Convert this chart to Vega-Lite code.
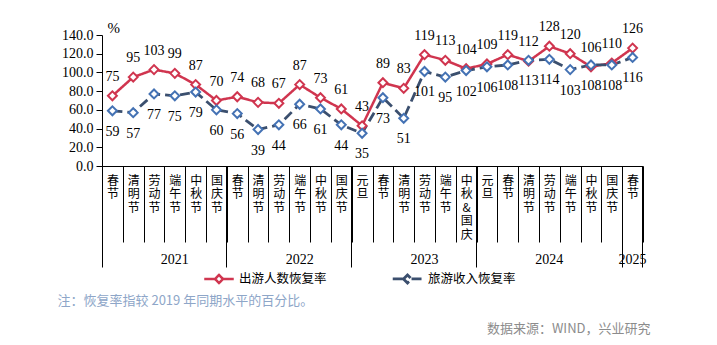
{
  "$schema": "https://vega.github.io/schema/vega-lite/v6.json",
  "autosize": "none",
  "width": 541,
  "height": 131,
  "padding": {"left": 102, "top": 35, "right": 74, "bottom": 179},
  "background": "white",
  "config": {"view": {"stroke": null}, "axis": {"grid": false, "domainColor": "black", "tickColor": "black", "labelColor": "black", "titleColor": "black"},
    "axisY": {"labelOverlap": false, "labelFlush": false, "labelBound": false}},
  "data": {"values": [
    {"k": "2021春节", "out": 75, "rev": 59},
    {"k": "2021清明节", "out": 95, "rev": 57},
    {"k": "2021劳动节", "out": 103, "rev": 77},
    {"k": "2021端午节", "out": 99, "rev": 75},
    {"k": "2021中秋节", "out": 87, "rev": 79},
    {"k": "2021国庆节", "out": 70, "rev": 60},
    {"k": "2022春节", "out": 74, "rev": 56},
    {"k": "2022清明节", "out": 68, "rev": 39},
    {"k": "2022劳动节", "out": 67, "rev": 44},
    {"k": "2022端午节", "out": 87, "rev": 66},
    {"k": "2022中秋节", "out": 73, "rev": 61},
    {"k": "2022国庆节", "out": 61, "rev": 44},
    {"k": "2023元旦", "out": 43, "rev": 35},
    {"k": "2023春节", "out": 89, "rev": 73},
    {"k": "2023清明节", "out": 83, "rev": 51},
    {"k": "2023劳动节", "out": 119, "rev": 101},
    {"k": "2023端午节", "out": 113, "rev": 95},
    {"k": "2023中秋&国庆", "out": 104, "rev": 102},
    {"k": "2024元旦", "out": 109, "rev": 106},
    {"k": "2024春节", "out": 119, "rev": 108},
    {"k": "2024清明节", "out": 112, "rev": 113},
    {"k": "2024劳动节", "out": 128, "rev": 114},
    {"k": "2024端午节", "out": 120, "rev": 103},
    {"k": "2024中秋节", "out": 106, "rev": 108},
    {"k": "2024国庆节", "out": 110, "rev": 108},
    {"k": "2025春节", "out": 126, "rev": 116}
  ]},
  "resolve": {"axis": {"x": "independent"}},
  "layer": [
    {
      "transform": [{"fold": ["out", "rev"], "as": ["s", "v"]}],
      "mark": {"type": "line"},
      "encoding": {
        "x": {"field": "k", "type": "ordinal", "sort": null, "scale": {"paddingInner": 0, "paddingOuter": 0},
          "axis": {"orient": "bottom", "title": null, "domain": true, "domainWidth": 1, "ticks": true, "tickBand": "extent", "tickSize": 76, "tickWidth": 1,
            "labelExpr": "split(substring(datum.label, 4), '')", "labelAngle": 0, "labelBaseline": "top", "labelAlign": "center",
            "labelPadding": -67, "labelFont": "Noto Sans CJK SC", "labelFontSize": 12, "labelLineHeight": 13.5, "labelOverlap": false, "labelBound": false}},
        "y": {"field": "v", "type": "quantitative", "scale": {"domain": [0, 140], "nice": false, "zero": true},
          "axis": {"orient": "left", "values": [0, 20, 40, 60, 80, 100, 120, 140], "format": ".1f", "tickSize": 6, "labelPadding": 3,
            "labelFont": "Liberation Serif", "labelFontSize": 14, "labelFlush": false, "labelOverlap": false, "labelBound": false, "domainWidth": 1,
            "title": "%", "titleAngle": 0, "titleX": 5, "titleY": 0, "titleAlign": "left", "titleBaseline": "bottom",
            "titleFont": "Liberation Serif", "titleFontSize": 15, "titleFontWeight": "normal"}},
        "color": {"field": "s", "type": "nominal", "scale": {"domain": ["out", "rev"], "range": ["#d0354f", "#3b4f6e"]},
          "legend": {"orient": "none", "legendX": 109, "legendY": 235, "direction": "horizontal", "title": null,
            "labelExpr": "datum.label == 'out' ? '出游人数恢复率' : '旅游收入恢复率'",
            "symbolType": "M-2.2,0H-0.6M0.6,0H2.2M-0.6,0L0,-0.6L0.6,0L0,0.6Z", "symbolSize": 180, "symbolStrokeWidth": 2.5,
            "symbolFillColor": "white", "labelFont": "Noto Sans CJK SC", "labelFontSize": 12.5, "labelColor": "black",
            "labelOffset": 12, "columnPadding": 60}},
        "strokeDash": {"field": "s", "type": "nominal", "scale": {"domain": ["out", "rev"], "range": [[1, 0], [10, 5]]}},
        "strokeWidth": {"field": "s", "type": "nominal", "scale": {"domain": ["out", "rev"], "range": [2.5, 2.8]}, "legend": null}
      }
    },
    {
      "mark": {"type": "point", "shape": "diamond", "size": 80, "filled": true, "fill": "white", "stroke": "#d0354f", "strokeWidth": 2, "opacity": 1},
      "encoding": {
        "x": {"field": "k", "type": "ordinal", "sort": null,
          "axis": {"orient": "bottom", "title": null, "values": ["2021春节", "2022春节", "2023元旦", "2024元旦", "2025春节"], "bandPosition": 0,
            "domain": false, "labels": false, "ticks": true, "tickSize": 101, "tickWidth": 1}},
        "y": {"field": "out", "type": "quantitative",
          "axis": {"orient": "left", "values": [0, 20, 40, 60, 80, 100, 120, 140], "format": ".1f", "tickSize": 6, "labelPadding": 3,
            "labelFont": "Liberation Serif", "labelFontSize": 14, "labelFlush": false, "labelOverlap": false, "labelBound": false, "domainWidth": 1,
            "title": "%", "titleAngle": 0, "titleX": 5, "titleY": 0, "titleAlign": "left", "titleBaseline": "bottom",
            "titleFont": "Liberation Serif", "titleFontSize": 15, "titleFontWeight": "normal"}}
      }
    },
    {
      "mark": {"type": "point", "shape": "diamond", "size": 80, "filled": true, "fill": "white", "stroke": "#4472b4", "strokeWidth": 2, "opacity": 1},
      "encoding": {
        "x": {"field": "k", "type": "ordinal", "sort": null,
          "axis": {"orient": "bottom", "title": null, "values": ["2024劳动节", "2025春节"], "bandPosition": 0.5,
            "domain": false, "ticks": false, "labelExpr": "substring(datum.label, 0, 4)", "labelPadding": 93, "labelBaseline": "middle",
            "labelAngle": 0, "labelFont": "Liberation Serif", "labelFontSize": 14, "labelOverlap": false, "labelBound": false}},
        "y": {"field": "rev", "type": "quantitative",
          "axis": {"orient": "left", "values": [0, 20, 40, 60, 80, 100, 120, 140], "format": ".1f", "tickSize": 6, "labelPadding": 3,
            "labelFont": "Liberation Serif", "labelFontSize": 14, "labelFlush": false, "labelOverlap": false, "labelBound": false, "domainWidth": 1,
            "title": "%", "titleAngle": 0, "titleX": 5, "titleY": 0, "titleAlign": "left", "titleBaseline": "bottom",
            "titleFont": "Liberation Serif", "titleFontSize": 15, "titleFontWeight": "normal"}}
      }
    },
    {
      "mark": {"type": "text", "dy": -19, "baseline": "middle", "font": "Liberation Serif", "fontSize": 14, "color": "black"},
      "encoding": {
        "x": {"field": "k", "type": "ordinal", "sort": null,
          "axis": {"orient": "bottom", "values": ["2025春节"], "bandPosition": 1, "domain": false, "labels": false, "ticks": true, "tickSize": 101, "tickWidth": 1,
            "title": "数据来源：WIND，兴业研究", "titleX": 548, "titleY": 162, "titleAlign": "right", "titleBaseline": "middle", "titleAngle": 0,
            "titleFont": "Noto Sans CJK SC", "titleFontSize": 13, "titleFontWeight": "normal", "titleColor": "#8c8c8c"}},
        "y": {"field": "out", "type": "quantitative",
          "axis": {"orient": "left", "values": [0, 20, 40, 60, 80, 100, 120, 140], "format": ".1f", "tickSize": 6, "labelPadding": 3,
            "labelFont": "Liberation Serif", "labelFontSize": 14, "labelFlush": false, "labelOverlap": false, "labelBound": false, "domainWidth": 1,
            "title": "%", "titleAngle": 0, "titleX": 5, "titleY": 0, "titleAlign": "left", "titleBaseline": "bottom",
            "titleFont": "Liberation Serif", "titleFontSize": 15, "titleFontWeight": "normal"}},
        "text": {"field": "out", "type": "quantitative"}
      }
    },
    {
      "mark": {"type": "text", "dy": 21, "baseline": "middle", "font": "Liberation Serif", "fontSize": 14, "color": "black"},
      "encoding": {
        "x": {"field": "k", "type": "ordinal", "sort": null,
          "axis": {"orient": "bottom", "values": ["2021端午节", "2022端午节", "2023劳动节"], "bandPosition": 0, "domain": false, "ticks": false,
            "labelExpr": "substring(datum.label, 0, 4)", "labelPadding": 93, "labelBaseline": "middle", "labelAngle": 0,
            "labelFont": "Liberation Serif", "labelFontSize": 14, "labelOverlap": false, "labelBound": false,
            "title": "注：恢复率指较 2019 年同期水平的百分比。", "titleX": -45, "titleY": 134, "titleAlign": "left", "titleBaseline": "middle", "titleAngle": 0,
            "titleFont": "Noto Sans CJK SC", "titleFontSize": 13, "titleFontWeight": "normal", "titleColor": "#8ea6c8"}},
        "y": {"field": "rev", "type": "quantitative",
          "axis": {"orient": "left", "values": [0, 20, 40, 60, 80, 100, 120, 140], "format": ".1f", "tickSize": 6, "labelPadding": 3,
            "labelFont": "Liberation Serif", "labelFontSize": 14, "labelFlush": false, "labelOverlap": false, "labelBound": false, "domainWidth": 1,
            "title": "%", "titleAngle": 0, "titleX": 5, "titleY": 0, "titleAlign": "left", "titleBaseline": "bottom",
            "titleFont": "Liberation Serif", "titleFontSize": 15, "titleFontWeight": "normal"}},
        "text": {"field": "rev", "type": "quantitative"}
      }
    }
  ]
}
